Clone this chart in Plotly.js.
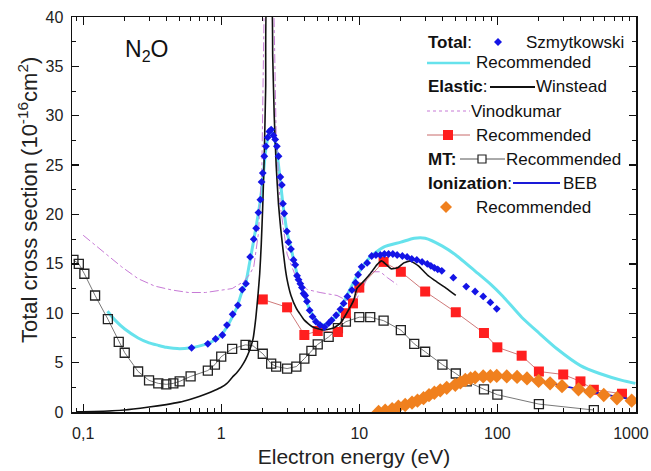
<!DOCTYPE html>
<html>
<head>
<meta charset="utf-8">
<script src="https://cdn.plot.ly/plotly-3.0.1.min.js"></script>
<style>html,body{margin:0;padding:0;background:#fff;}#chart{width:651px;height:471px;}</style>
</head>
<body>
<div id="chart"></div>
<script>
// ---- Data ----
// Total cross section, Szmytkowski (blue diamonds)
const szX = [0.61,0.80,0.91,1.02,1.1,1.21,1.32,1.42,1.51,1.62,1.72,1.79,1.86,1.92,1.96,2.0,2.05,2.11,2.17,2.23,2.3,2.39,2.46,2.53,2.6,2.68,2.75,2.8,2.86,2.99,3.07,3.2,3.34,3.44,3.54,3.63,3.74,3.84,3.95,4.06,4.18,4.37,4.59,4.85,5.2,5.6,6.0,6.3,6.8,7.3,7.7,8.2,8.85,9.4,9.8,10.4,11.4,12.3,13.2,14.2,15.2,16.3,17.5,18.8,20.5,22.2,24,26.1,28.5,31.1,33,35,37,39.6,48,59.5,69,79,89,99];
const szY = [6.5,6.9,7.4,7.8,8.8,9.9,10.8,12.4,13.0,15.7,17.5,18.6,20.2,21.5,23.3,24.2,25.9,26.9,27.8,28.4,28.6,28.0,27.6,26.9,25.9,23.8,23.0,21.1,20.1,18.3,17.2,16.5,15.4,14.9,13.8,13.4,13.0,12.6,12.0,11.8,11.2,10.3,9.65,9.15,8.8,8.6,9.0,9.3,9.8,10.4,11.0,11.7,12.35,13.1,13.9,14.7,15.1,15.8,15.9,15.9,16.0,16.0,16.0,15.9,15.8,15.7,15.5,15.4,15.2,15.0,14.8,14.6,14.45,14.3,13.6,12.7,12.2,11.7,11.1,10.45];
// Total cross section, recommended (cyan line)
const totRecX = [0.15,0.17,0.2,0.25,0.3,0.35,0.4,0.45,0.5,0.6,0.7,0.8,0.9,1.0,1.1,1.2,1.3,1.4,1.5,1.6,1.7,1.8,1.9,2.0,2.1,2.2,2.3,2.4,2.5,2.6,2.7,2.8,2.9,3.0,3.2,3.4,3.6,3.8,4.0,4.4,5.0,5.5,6.0,7.0,8.0,9.0,10,12,15,20,25,30,40,50,70,90,110,150,200,270,400,550,800,1000];
const totRecY = [10.2,9.3,8.4,7.5,7.0,6.75,6.55,6.45,6.4,6.5,6.7,6.95,7.3,7.8,8.6,9.6,10.6,12.0,13.0,15.0,17.0,19.0,21.0,23.5,26.5,28.0,28.4,28.0,26.8,25.0,23.0,21.0,19.5,18.2,16.6,15.0,13.6,12.6,11.8,10.3,9.1,8.8,9.0,9.9,11.6,13.0,14.2,15.7,16.7,17.2,17.6,17.6,16.8,15.9,14.2,12.9,11.7,9.6,8.0,6.4,4.7,3.9,3.2,2.9];
// Elastic, Winstead (black line)
const winX = [0.09,0.12,0.2,0.3,0.4,0.5,0.6,0.7,0.8,0.9,1.0,1.1,1.2,1.3,1.4,1.5,1.6,1.7,1.78,1.85,1.9,1.95,2.0,2.05,2.1,2.15,2.3,2.36,2.42,2.5,2.6,2.7,2.8,2.9,3.0,3.2,3.5,4.0,4.6,5.5,6.5,7.3,8.1,9.1,9.6,10.7,12,13.4,14.5,15.5,17,19,21,23.4,26.8,31,34.5,43,50];
const winY = [0.02,0.05,0.2,0.5,0.75,1.0,1.3,1.6,1.9,2.2,2.5,2.9,3.5,4.0,4.6,5.3,6.2,7.4,9.5,12,14,17,21,26,33,42,42,36,30,25,21,18.5,16.5,14.7,13.4,11.8,10.5,9.3,8.6,8.3,8.5,9.0,10.0,11.3,12.5,13.2,14.0,14.9,15.3,15.0,14.5,14.6,15.1,15.3,14.8,13.9,13.4,12.5,11.8];
// Elastic, Vinodkumar (purple dash-dot)
const vinX = [0.1,0.145,0.19,0.25,0.33,0.44,0.58,0.77,1.0,1.2,1.45,1.6,1.72,1.86,1.97,2.02,2.07,2.37,2.43,2.5,2.68,3.0,3.4,3.74,4.2,5.2,6.9,8.1,9.6,10.7,12,14.2,16,18.8];
const vinY = [17.9,16.1,14.7,13.5,12.75,12.35,12.1,12.1,12.3,12.5,13.2,13.9,14.7,18.1,24.8,35,46,46,35,28,20.8,16,14,13.0,12.4,12.1,11.8,11.3,11.5,12.7,14.2,14.2,13.6,12.9];
// Elastic, recommended (red squares)
const elX = [2,3,4,5,7,8,9,10,15,20,30,50,80,100,150,200,300,400,500,800];
const elY = [11.4,10.6,7.8,8.2,8.1,10.0,11.0,12.6,15.2,14.2,12.2,10.1,8.0,6.55,5.7,4.1,3.8,3.1,2.25,1.85];
// Momentum transfer, recommended (open squares)
const mtX = [0.085,0.093,0.102,0.122,0.151,0.181,0.2,0.25,0.3,0.35,0.4,0.45,0.5,0.6,0.8,0.9,1.0,1.2,1.5,1.7,2.0,2.3,2.5,3.0,3.5,4.0,4.5,5,6,7,8,10,12,15,20,25,30,40,50,60,80,100,200,500];
const mtY = [15.4,15.0,14.0,11.8,9.4,7.1,6.0,4.1,3.2,2.9,2.8,2.9,3.1,3.6,4.2,4.8,5.6,6.4,6.8,6.7,5.9,4.9,4.6,4.4,4.6,5.4,6.2,6.85,7.6,8.5,9.15,9.6,9.6,9.25,8.3,6.9,6.1,4.8,3.9,3.1,2.3,1.75,0.8,0.2];
// Ionization, BEB (blue line)
const bebX = [13,15,20,25,30,40,50,60,70,80,100,150,200,300,500,700,1000];
const bebY = [0,0.15,0.6,1.05,1.5,2.25,2.8,3.2,3.45,3.6,3.65,3.45,3.15,2.65,2.0,1.6,1.2];
// Ionization, recommended (orange diamonds)
const ionX = [13.8,15.4,17.3,19.2,21.5,24.1,26.4,29.2,32,35,38.6,43,49.6,54,58.6,64,69,79,89,99,117,139,164,199,241,294,387,470,590,735,940];
const ionY = [0,0.13,0.3,0.54,0.71,0.95,1.15,1.4,1.7,1.95,2.2,2.45,2.75,3.0,3.24,3.4,3.5,3.6,3.62,3.65,3.6,3.55,3.4,3.15,2.9,2.62,2.3,2.06,1.72,1.39,1.15];
// Axis ticks
const xTickVals = [0.1,1,10,100,1000];
const xTickText = ['0,1','1','10','100','1000&nbsp;&nbsp;'];

// ---- Colours ----
const C_BLUE='#1414e6', C_CYAN='#66e2ec', C_BLACK='#111111', C_PINK='#c77ad6', C_RED='#ff1f1f', C_REDLINE='#c86a6a', C_GREY='#555555', C_BEB='#1a1ad8', C_ORANGE='#f0801e';

const traces = [
  {x: totRecX, y: totRecY, mode:'lines', line:{color:C_CYAN, width:3, shape:'spline', smoothing:0.6}},
  {x: vinX, y: vinY, mode:'lines', line:{color:C_PINK, width:1, dash:'dashdot'}},
  {x: mtX, y: mtY, mode:'lines+markers', line:{color:C_GREY, width:0.8},
   marker:{symbol:'square-open', size:9, color:'#222', line:{width:1.3, color:'#222'}}},
  {x: elX, y: elY, mode:'lines+markers', line:{color:C_REDLINE, width:0.9},
   marker:{symbol:'square', size:10, color:C_RED}},
  {x: winX, y: winY, mode:'lines', line:{color:C_BLACK, width:1.6, shape:'spline', smoothing:0.4}},
  {x: szX, y: szY, mode:'markers', marker:{symbol:'diamond', size:6, color:C_BLUE}},
  {x: bebX, y: bebY, mode:'lines', line:{color:C_BEB, width:1.8, shape:'spline'}},
  {x: ionX, y: ionY, mode:'markers', marker:{symbol:'diamond', size:11, color:C_ORANGE}}
];

// ---- Legend drawn by hand (pixel positions converted to paper) ----
const W=651,H=471,ML=72,MR=15,MT=17,MB=59;
const PW=W-ML-MR, PH=H-MT-MB;
const px = v => (v-ML)/PW;
const py = v => (H-MB-v)/PH;
const FONT = 'Liberation Sans, Arial, sans-serif';
const LF = 17;
function txt(x,y,t){return {xref:'paper',yref:'paper',x:px(x),y:py(y),xanchor:'left',yanchor:'middle',text:t,showarrow:false,font:{family:FONT,size:LF,color:'#111'},borderpad:0};}
function hline(x0,x1,y,color,width,dash){return {type:'line',xref:'paper',yref:'paper',x0:px(x0),x1:px(x1),y0:py(y),y1:py(y),line:{color:color,width:width,dash:dash||'solid'}};}
function diamond(cx,cy,r,color){return {type:'path',xref:'paper',yref:'paper',path:`M ${px(cx)},${py(cy-r)} L ${px(cx+r)},${py(cy)} L ${px(cx)},${py(cy+r)} L ${px(cx-r)},${py(cy)} Z`,fillcolor:color,line:{width:0}};}
function square(cx,cy,r,fill,lc,lw){return {type:'rect',xref:'paper',yref:'paper',x0:px(cx-r),x1:px(cx+r),y0:py(cy+r),y1:py(cy-r),fillcolor:fill,line:{color:lc,width:lw}};}

const annotations = [
  txt(427,42,'<b>Total</b>:'), txt(525,42,'Szmytkowski'),
  txt(475,63,'Recommended'),
  txt(427,87,'<b>Elastic</b>:'), txt(535,87,'Winstead'),
  txt(470,111,'Vinodkumar'),
  txt(475,135,'Recommended'),
  txt(427,159,'<b>MT:</b>'), txt(505,159,'Recommended'),
  txt(427,183,'<b>Ionization</b>:'), txt(562,183,'BEB'),
  txt(475,207,'Recommended'),
  {xref:'paper',yref:'paper',x:px(123),y:py(50),xanchor:'left',yanchor:'middle',text:'N<sub>2</sub>O',showarrow:false,font:{family:FONT,size:23,color:'#111'}},
  // y axis title as an annotation so that its size and centre match the reference
  {xref:'paper',yref:'paper',x:px(28),y:py(200),xanchor:'center',yanchor:'middle',textangle:-90,
   text:'Total cross section (10<sup>-16</sup>cm<sup>2</sup>)',showarrow:false,font:{family:FONT,size:22,color:'#222'}}
];
const shapes = [
  diamond(498,42,4,C_BLUE),
  hline(427,470,63,C_CYAN,2.5),
  hline(490,535,87,C_BLACK,1.8),
  hline(427,470,111,C_PINK,1,'dot'),
  hline(427,470,135,C_REDLINE,1), square(448,135,5,C_RED,C_RED,0),
  hline(460,505,159,C_GREY,1), square(482,159,4,'#fff','#222',1.2),
  hline(513,560,183,C_BEB,1.8),
  diamond(446,207,6,C_ORANGE)
];

const axisCommon = {showline:true, linecolor:'#111', linewidth:1.5, mirror:'ticks', ticks:'inside',
  tickcolor:'#111', tickwidth:1.3, showgrid:false, zeroline:false,
  tickfont:{family:FONT,size:16,color:'#222'}};

const layout = {
  width:W, height:H, margin:{l:ML,r:MR,t:MT,b:MB},
  paper_bgcolor:'#fff', plot_bgcolor:'#fff', showlegend:false,
  font:{family:FONT,color:'#111'},
  xaxis: Object.assign({}, axisCommon, {
    type:'log', range:[Math.log10(0.083), Math.log10(1010)], tickmode:'array', tickvals:xTickVals, ticktext:xTickText,
    ticklen:8, ticklabelstandoff:6, ticklabeloverflow:'allow',
    minor:{ticks:'inside', ticklen:4, tickcolor:'#111', tickwidth:1, dtick:'D1', showgrid:false},
    title:{text:'Electron energy (eV)', font:{family:FONT,size:21,color:'#222'}, standoff:8}
  }),
  yaxis: Object.assign({}, axisCommon, {
    range:[0,40], dtick:5, tick0:0, ticklen:7, ticklabelstandoff:4,
    minor:{ticks:'inside', ticklen:4, tickcolor:'#111', tickwidth:1, dtick:2.5, showgrid:false}
  }),
  annotations: annotations,
  shapes: shapes
};

Plotly.newPlot('chart', traces, layout, {staticPlot:true, displayModeBar:false});
</script>
</body>
</html>
